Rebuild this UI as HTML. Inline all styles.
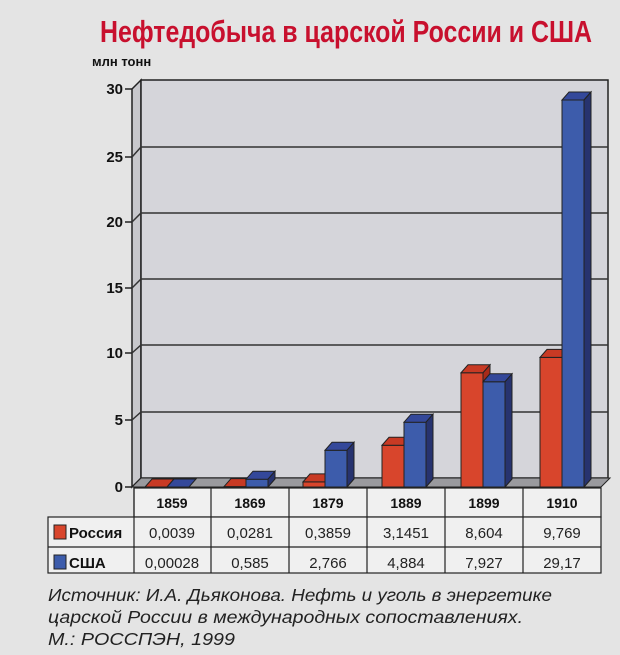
<!DOCTYPE html>
<html><head><meta charset="utf-8"><style>
body{margin:0;background:#e4e4e4;}
svg{display:block;font-family:"Liberation Sans",sans-serif;}
</style></head><body>
<svg width="620" height="655" viewBox="0 0 620 655" xmlns="http://www.w3.org/2000/svg">
<rect width="620" height="655" fill="#e4e4e4"/>
<text x="100" y="42" font-size="31" font-weight="bold" fill="#c8102e" textLength="492" lengthAdjust="spacingAndGlyphs">Нефтедобыча в царской России и США</text>
<text x="92" y="66" font-size="13" font-weight="bold" fill="#111">млн тонн</text>
<polygon points="132,89 141,80 141,478 132,487" fill="#c8c8cc" stroke="#222" stroke-width="1.5"/>
<rect x="141" y="80" width="467" height="398" fill="#d5d5da" stroke="#222" stroke-width="1.5"/>
<g stroke="#333" stroke-width="1.5" fill="none">
<path d="M132,157 L141,147 L608,147"/>
<path d="M132,222 L141,213 L608,213"/>
<path d="M132,288 L141,279 L608,279"/>
<path d="M132,353 L141,345 L608,345"/>
<path d="M132,420 L141,412 L608,412"/>
</g>
<polygon points="132,487 141,478 610,478 601,487" fill="#9a9a9e" stroke="#222" stroke-width="1"/>
<g stroke="#222" stroke-width="1.5">
<line x1="125" y1="89" x2="132" y2="89"/><line x1="125" y1="157" x2="132" y2="157"/>
<line x1="125" y1="222" x2="132" y2="222"/><line x1="125" y1="288" x2="132" y2="288"/>
<line x1="125" y1="353" x2="132" y2="353"/><line x1="125" y1="420" x2="132" y2="420"/>
<line x1="125" y1="487" x2="132" y2="487"/>
</g>
<g font-size="15" font-weight="bold" text-anchor="end" fill="#111">
<text x="123" y="94">30</text><text x="123" y="162">25</text><text x="123" y="227">20</text>
<text x="123" y="293">15</text><text x="123" y="358">10</text><text x="123" y="425">5</text><text x="123" y="492">0</text>
</g>
<g stroke="#222" stroke-width="1">
<polygon points="145,487 167,487 174,479 152,479" fill="#c83a24"/>
<polygon points="167,487 189,487 196,479 174,479" fill="#34489a"/>
<rect x="224" y="486.6" width="22" height="0.4" fill="#d8452c"/>
<polygon points="224,486.6 246,486.6 253,478.6 231,478.6" fill="#c83a24"/>
<rect x="246" y="479.2" width="22" height="7.8" fill="#3d5cab"/>
<polygon points="246,479.2 268,479.2 275,471.2 253,471.2" fill="#34489a"/>
<polygon points="268,479.2 275,471.2 275,479 268,487" fill="#27336f"/>
<rect x="303" y="481.9" width="22" height="5.1" fill="#d8452c"/>
<polygon points="303,481.9 325,481.9 332,473.9 310,473.9" fill="#c83a24"/>
<rect x="325" y="450.3" width="22" height="36.7" fill="#3d5cab"/>
<polygon points="325,450.3 347,450.3 354,442.3 332,442.3" fill="#34489a"/>
<polygon points="347,450.3 354,442.3 354,479 347,487" fill="#27336f"/>
<rect x="382" y="445.3" width="22" height="41.7" fill="#d8452c"/>
<polygon points="382,445.3 404,445.3 411,437.3 389,437.3" fill="#c83a24"/>
<rect x="404" y="422.2" width="22" height="64.8" fill="#3d5cab"/>
<polygon points="404,422.2 426,422.2 433,414.2 411,414.2" fill="#34489a"/>
<polygon points="426,422.2 433,414.2 433,479 426,487" fill="#27336f"/>
<rect x="461" y="372.8" width="22" height="114.2" fill="#d8452c"/>
<polygon points="461,372.8 483,372.8 490,364.8 468,364.8" fill="#c83a24"/>
<polygon points="483,372.8 490,364.8 490,373.8 483,381.8" fill="#a82a1a"/>
<rect x="483" y="381.8" width="22" height="105.2" fill="#3d5cab"/>
<polygon points="483,381.8 505,381.8 512,373.8 490,373.8" fill="#34489a"/>
<polygon points="505,381.8 512,373.8 512,479 505,487" fill="#27336f"/>
<rect x="540" y="357.4" width="22" height="129.6" fill="#d8452c"/>
<polygon points="540,357.4 562,357.4 569,349.4 547,349.4" fill="#c83a24"/>
<rect x="562" y="100" width="22" height="387" fill="#3d5cab"/>
<polygon points="562,100 584,100 591,92 569,92" fill="#34489a"/>
<polygon points="584,100 591,92 591,479 584,487" fill="#27336f"/>
</g>
<g fill="#f0f0f0" stroke="#222" stroke-width="1.2">
<rect x="134" y="488" width="467" height="29"/>
<rect x="48" y="517" width="553" height="56"/>
</g>
<g stroke="#222" stroke-width="1.2">
<line x1="48" y1="547" x2="601" y2="547"/>
<line x1="134" y1="488" x2="134" y2="573"/><line x1="211" y1="488" x2="211" y2="573"/>
<line x1="289" y1="488" x2="289" y2="573"/><line x1="367" y1="488" x2="367" y2="573"/>
<line x1="445" y1="488" x2="445" y2="573"/><line x1="523" y1="488" x2="523" y2="573"/>
</g>
<g font-size="14" font-weight="bold" text-anchor="middle" fill="#111">
<text x="172" y="508">1859</text><text x="250" y="508">1869</text><text x="328" y="508">1879</text>
<text x="406" y="508">1889</text><text x="484" y="508">1899</text><text x="562" y="508">1910</text>
</g>
<rect x="54" y="525" width="12" height="14" fill="#d8452c" stroke="#222"/>
<rect x="54" y="555" width="12" height="14" fill="#3d5cab" stroke="#222"/>
<g font-size="15" font-weight="bold" fill="#111">
<text x="69" y="538">Россия</text><text x="69" y="568">США</text>
</g>
<g font-size="15" text-anchor="middle" fill="#222">
<text x="172" y="538">0,0039</text><text x="250" y="538">0,0281</text><text x="328" y="538">0,3859</text>
<text x="406" y="538">3,1451</text><text x="484" y="538">8,604</text><text x="562" y="538">9,769</text>
<text x="172" y="568">0,00028</text><text x="250" y="568">0,585</text><text x="328" y="568">2,766</text>
<text x="406" y="568">4,884</text><text x="484" y="568">7,927</text><text x="562" y="568">29,17</text>
</g>
<g font-size="17.5" font-style="italic" fill="#222">
<text x="48" y="601" textLength="504" lengthAdjust="spacingAndGlyphs">Источник: И.А. Дьяконова. Нефть и уголь в энергетике</text>
<text x="48" y="623" textLength="475" lengthAdjust="spacingAndGlyphs">царской России в международных сопоставлениях.</text>
<text x="48" y="645" textLength="187" lengthAdjust="spacingAndGlyphs">М.: РОССПЭН, 1999</text>
</g>
</svg>
</body></html>
